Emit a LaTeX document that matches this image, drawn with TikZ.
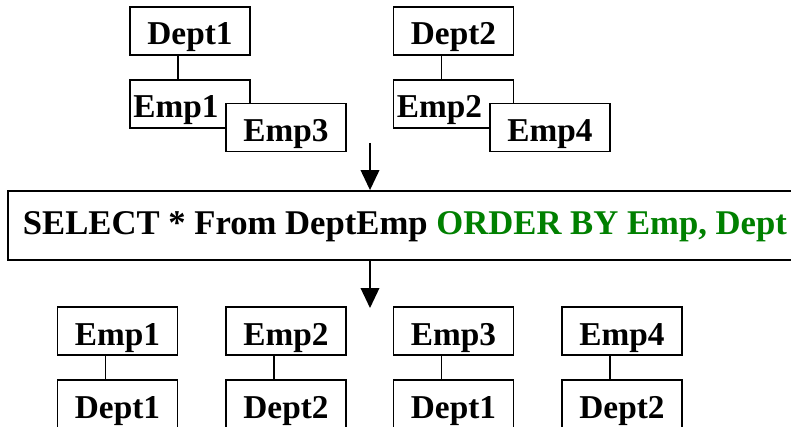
\documentclass[tikz,border=0pt]{standalone}
\usepackage{fontspec}
\setmainfont{Liberation Serif}
\usetikzlibrary{arrows.meta}
\definecolor{sqlgreen}{RGB}{0,128,0}
\tikzset{
  box/.style={draw, line width=1.1pt, fill=white, inner sep=0pt,
    minimum width=90pt, minimum height=36pt,
    text height=26pt, text depth=5pt,
    font=\fontsize{25}{29}\selectfont\bfseries},
  leftbox/.style={box, text width=85pt, align=left, inner xsep=2.5pt},
  link/.style={line width=1.1pt},
  flow/.style={line width=1.1pt, -{Triangle[length=15pt,width=14pt]}},
  query/.style={draw, line width=1.4pt, fill=white, anchor=west,
    inner xsep=11.25pt, inner ysep=0pt, minimum height=51.75pt,
    text height=19.25pt, text depth=5pt,
    font=\fontsize{26}{30}\selectfont\bfseries}
}
\begin{document}
\begin{tikzpicture}[x=0.75pt, y=-0.75pt]
  \clip (0,0) rectangle (791,427);
  \fill[white] (0,0) rectangle (791,427);

  % department 1 with its employees
  \node[box]     (td1) at (190,31)    {Dept1};
  \node[leftbox] (te1) at (190,104)   {Emp1};
  \node[box]     (te3) at (286,127.5) {Emp3};
  \draw[link] ([xshift=-9pt]td1.south) -- ([xshift=-9pt]te1.north);

  % department 2 with its employees
  \node[box]     (td2) at (453.5,31)  {Dept2};
  \node[leftbox] (te2) at (453.5,104) {Emp2};
  \node[box]     (te4) at (550,127.5) {Emp4};
  \draw[link] ([xshift=-9pt]td2.south) -- ([xshift=-9pt]te2.north);

  % the query; the box runs on past the right edge
  \node[query] (sql) at (7,225.5)
    {\makebox[700pt][l]{SELECT * From DeptEmp
      \textcolor{sqlgreen}{ORDER BY Emp, Dept}}};

  \coordinate (inA) at (370,143);
  \coordinate (outA) at (370,308);
  \draw[flow] (inA) -- (inA |- sql.north);
  \draw[flow] (outA |- sql.south) -- (outA);

  % result rows: employee over department
  \node[box] (re1) at (117.5,331) {Emp1};
  \node[box] (rd1) at (117.5,404) {Dept1};
  \node[box] (re2) at (286,331)   {Emp2};
  \node[box] (rd2) at (286,404)   {Dept2};
  \node[box] (re3) at (453.5,331) {Emp3};
  \node[box] (rd3) at (453.5,404) {Dept1};
  \node[box] (re4) at (622,331)   {Emp4};
  \node[box] (rd4) at (622,404)   {Dept2};
  \foreach \a/\b in {re1/rd1, re2/rd2, re3/rd3, re4/rd4}
    \draw[link] ([xshift=-9pt]\a.south) -- ([xshift=-9pt]\b.north);
\end{tikzpicture}
\end{document}
